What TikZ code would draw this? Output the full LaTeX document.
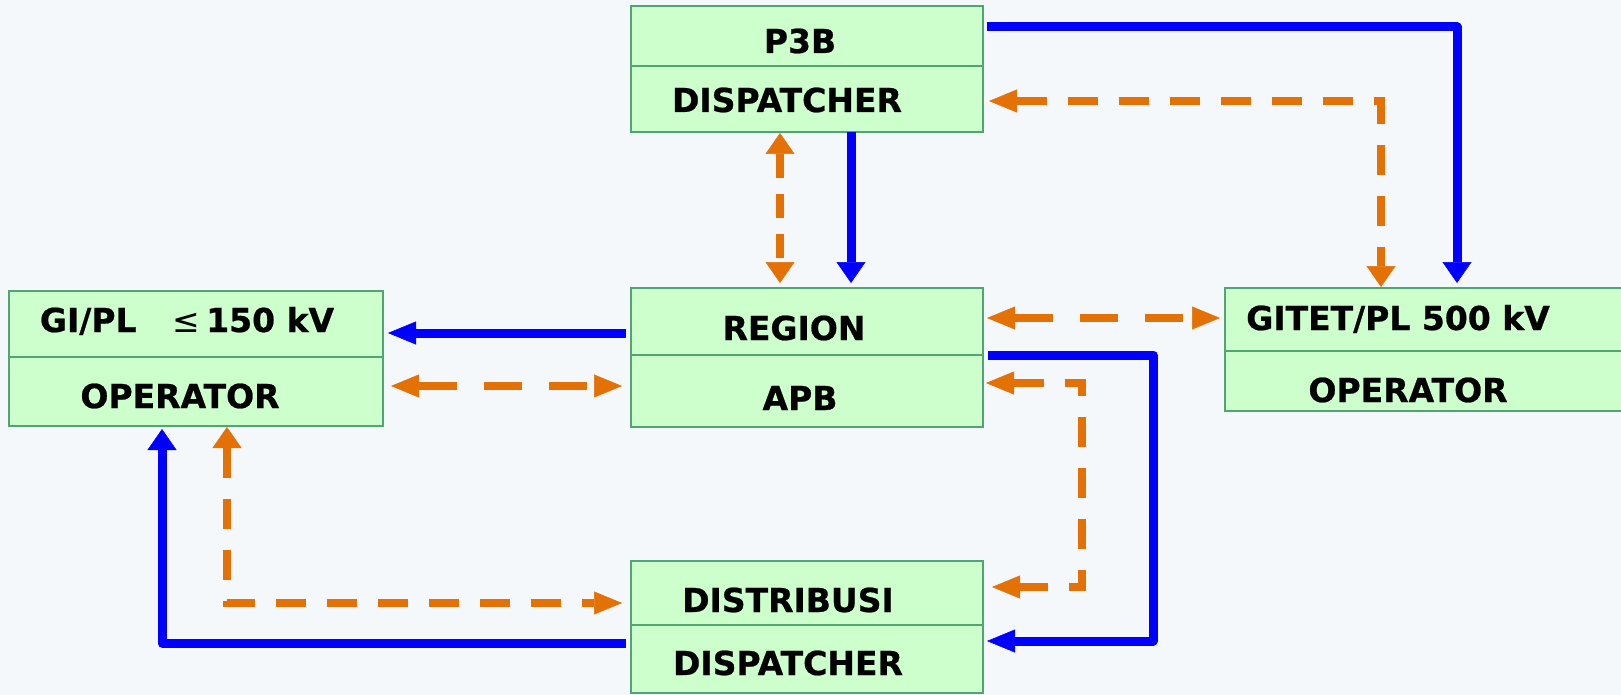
\documentclass[tikz,border=0pt]{standalone}
\usepackage{fontspec}
\setmainfont{DejaVu Sans}[BoldFeatures={FakeBold=0.7}]
\usetikzlibrary{arrows.meta}
\definecolor{bgc}{RGB}{245,248,251}
\definecolor{boxfill}{RGB}{204,255,204}
\definecolor{boxline}{RGB}{80,165,115}
\definecolor{flowblue}{RGB}{0,0,255}
\definecolor{floworange}{RGB}{228,113,5}
\tikzset{
  hTip/.tip={Triangle[length=28pt,width=23pt,line width=0.5pt]},
  vTip/.tip={Triangle[length=21pt,width=29pt,line width=0.5pt]},
}
\begin{document}
\begin{tikzpicture}[x=1pt,y=-1pt,
  box/.style={draw=boxline, line width=1.8pt, fill=boxfill, inner sep=0pt, outer sep=0pt},
  divider/.style={draw=boxline, line width=1.8pt},
  lbl/.style={font=\bfseries\fontsize{33}{38}\selectfont, anchor=base, inner sep=0pt},
  solidflow/.style={draw=flowblue, line width=9pt, line join=round},
  dashflow/.style={draw=floworange, line width=8pt, line join=miter},
  hdash/.style={dash pattern=on 38pt off 27pt},
  vdash/.style={dash pattern=on 24pt off 16pt},
  mdash/.style={dash pattern=on 30pt off 21pt},
]
\useasboundingbox (0,0) rectangle (1621,695);
\clip (0,0) rectangle (1621,695);
\fill[bgc] (0,0) rectangle (1621,695);

% boxes
\node[box, minimum width=352pt, minimum height=126pt] (p3b) at (807,69) {};
\node[box, minimum width=374pt, minimum height=135pt] (gipl) at (196,358.5) {};
\node[box, minimum width=352pt, minimum height=139pt] (region) at (807,357.5) {};
\node[box, minimum width=415pt, minimum height=123pt] (gitet) at (1432.5,349.5) {};
\node[box, minimum width=352pt, minimum height=132pt] (distr) at (807,627) {};

% dividers
\draw[divider] (p3b.west |- 0,66) -- (p3b.east |- 0,66);
\draw[divider] (gipl.west |- 0,357) -- (gipl.east |- 0,357);
\draw[divider] (region.west |- 0,355) -- (region.east |- 0,355);
\draw[divider] (gitet.west |- 0,351) -- (gitet.east |- 0,351);
\draw[divider] (distr.west |- 0,625) -- (distr.east |- 0,625);

% labels
\node[lbl] (t1) at (800,53) {P3B};
\node[lbl] (t2) at (787,112) {DISPATCHER};
\node[lbl] (t3) at (187,332) {GI/PL\hspace{36pt}{\mdseries ≤}\hspace{6pt}150 kV};
\node[lbl] (t4) at (180,408) {OPERATOR};
\node[lbl] (t5) at (794,340) {REGION};
\node[lbl] (t6) at (800,410) {APB};
\node[lbl] (t7) at (1398,330) {GITET/PL 500 kV};
\node[lbl] (t8) at (1408,402) {OPERATOR};
\node[lbl] (t9) at (788,612) {DISTRIBUSI};
\node[lbl] (t10) at (788,675) {DISPATCHER};

% blue connectors
\draw[solidflow, -vTip] ([xshift=4pt] p3b.east |- 0,27) -| ([yshift=5pt] gitet.north -| 1457,0);
\draw[solidflow, -vTip] (p3b.south -| 851,0) -- ([yshift=5pt] region.north -| 851,0);
\draw[solidflow, -hTip] ([xshift=-5pt] region.west |- 0,333) -- ([xshift=5pt] gipl.east |- 0,333);
\draw[solidflow, -hTip] ([xshift=5pt] region.east |- 0,355) -- (1153,355) -- (1153,641) -- ([xshift=4pt] distr.east |- 0,641);
\draw[solidflow, -vTip] ([xshift=-5pt] distr.west |- 0,643) -| ([yshift=-3pt] gipl.south -| 162,0);

% orange connectors
\draw[dashflow, mdash, hTip-vTip] ([xshift=6pt] p3b.east |- 0,101) -| ([yshift=1pt] gitet.north -| 1381,0);
\draw[dashflow, vdash, vTip-vTip] ([yshift=-1pt] p3b.south -| 780,0) -- ([yshift=5pt] region.north -| 780,0);
\draw[dashflow, hdash, hTip-hTip] ([xshift=8pt] gipl.east |- 0,386) -- ([xshift=-9pt] region.west |- 0,386);
\draw[dashflow, hdash, hTip-hTip] ([xshift=4pt] region.east |- 0,318) -- ([xshift=-5pt] gitet.west |- 0,318);
\draw[dashflow, mdash, hTip-hTip] ([xshift=3pt] region.east |- 0,383) -- (1082,383) -- (1082,587) -- ([xshift=9pt] distr.east |- 0,587);
\draw[dashflow, mdash, vTip-hTip] ([yshift=-1pt] gipl.south -| 227,0) |- ([xshift=-9pt] distr.west |- 0,603);
\end{tikzpicture}
\end{document}
